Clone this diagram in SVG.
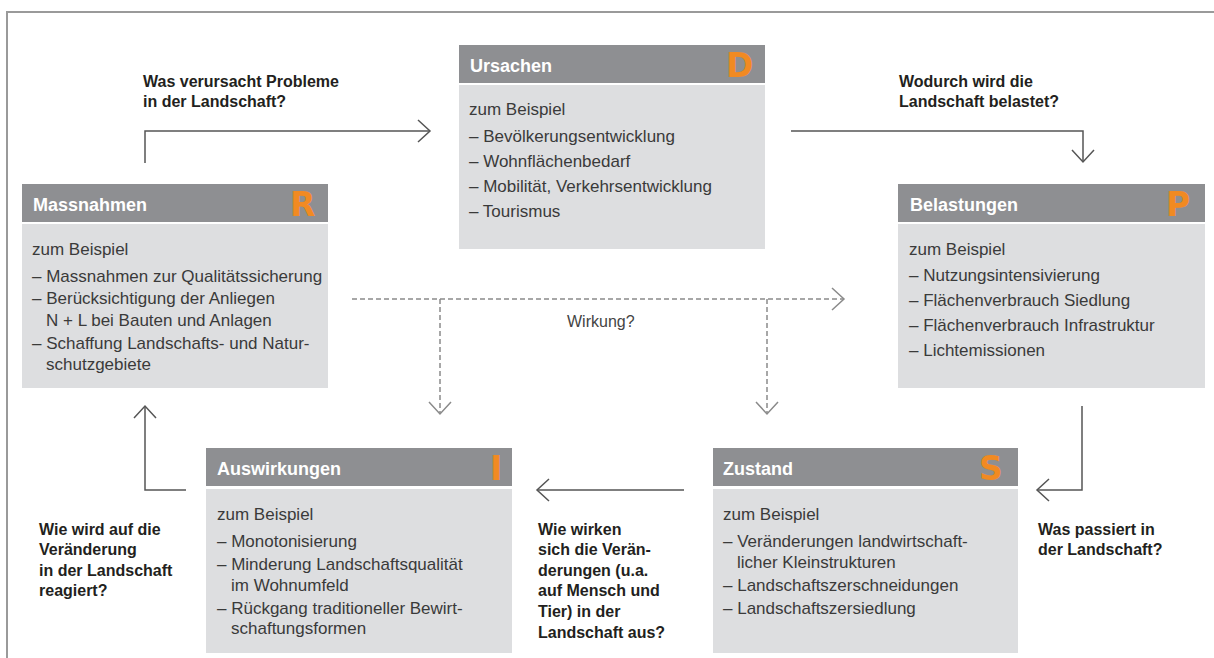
<svg xmlns="http://www.w3.org/2000/svg" width="1214" height="658" viewBox="0 0 1214 658">
<defs>
<style>
.hd{fill:#8e8f92}
.bd{fill:#dddee0}
.ht{font-family:"Liberation Sans",Arial,sans-serif;font-size:18px;font-weight:bold;fill:#ffffff}
.bt{font-family:"Liberation Sans",Arial,sans-serif;font-size:17px;fill:#3a3a3a}
.lt{font-family:"DejaVu Sans","Liberation Sans",sans-serif;font-size:33px;font-weight:bold;fill:#f18a22}
.q{font-family:"Liberation Sans",Arial,sans-serif;font-size:16px;font-weight:bold;fill:#231f20}
.w{font-family:"Liberation Sans",Arial,sans-serif;font-size:16px;fill:#444444}
.sol{fill:none;stroke:#555555;stroke-width:1.5}
.dsh{fill:none;stroke:#8a8a8a;stroke-width:1.5;stroke-dasharray:5 3}
.frame{fill:none;stroke:#9a9a9a;stroke-width:2}
</style>
<marker id="chev" markerUnits="userSpaceOnUse" markerWidth="30" markerHeight="30" viewBox="-15 -15 30 30" refX="0" refY="0" orient="auto" overflow="visible">
<path d="M-12,-11 L0,0 L-12,11" fill="none" stroke="#555555" stroke-width="1.5"/>
</marker>
<marker id="chevd" markerUnits="userSpaceOnUse" markerWidth="30" markerHeight="30" viewBox="-15 -15 30 30" refX="0" refY="0" orient="auto" overflow="visible">
<path d="M-12,-11 L0,0 L-12,11" fill="none" stroke="#8a8a8a" stroke-width="1.5"/>
</marker>
</defs>
<rect x="0" y="0" width="1214" height="658" fill="#ffffff"/>
<path class="frame" d="M1214,12 H7 V658"/>

<g id="connectors">
<path class="sol" d="M145,163 V131 H430" marker-end="url(#chev)"/>
<path class="sol" d="M791,131 H1083 V162" marker-end="url(#chev)"/>
<path class="sol" d="M1082,406 V490 H1037" marker-end="url(#chev)"/>
<path class="sol" d="M684,490 H537" marker-end="url(#chev)"/>
<path class="sol" d="M186,490 H145 V406" marker-end="url(#chev)"/>
<path class="dsh" d="M352,299 H844" marker-end="url(#chevd)"/>
<path class="dsh" d="M440,299 V414" marker-end="url(#chevd)"/>
<path class="dsh" d="M767,299 V414" marker-end="url(#chevd)"/>
<text class="w" x="567" y="327">Wirkung?</text>
</g>

<g id="q-d">
<text class="q" x="143" y="87">Was verursacht Probleme</text>
<text class="q" x="143" y="107">in der Landschaft?</text>
</g>
<g id="q-p">
<text class="q" x="899" y="87">Wodurch wird die</text>
<text class="q" x="899" y="107">Landschaft belastet?</text>
</g>
<g id="q-r">
<text class="q" x="39" y="535">Wie wird auf die</text>
<text class="q" x="39" y="555">Veränderung</text>
<text class="q" x="39" y="576">in der Landschaft</text>
<text class="q" x="39" y="596">reagiert?</text>
</g>
<g id="q-i">
<text class="q" x="538" y="535">Wie wirken</text>
<text class="q" x="538" y="555">sich die Verän-</text>
<text class="q" x="538" y="576">derungen (u.a.</text>
<text class="q" x="538" y="596">auf Mensch und</text>
<text class="q" x="538" y="617">Tier) in der</text>
<text class="q" x="538" y="638">Landschaft aus?</text>
</g>
<g id="q-s">
<text class="q" x="1038" y="535">Was passiert in</text>
<text class="q" x="1038" y="555">der Landschaft?</text>
</g>

<g id="node-D">
<rect class="hd" x="459" y="45" width="306" height="38"/>
<rect class="bd" x="459" y="85" width="306" height="164"/>
<text class="ht" x="470" y="72">Ursachen</text>
<text class="lt" x="726" y="77">D</text>
<text class="bt" x="469" y="115">zum Beispiel</text>
<text class="bt" x="469" y="142">– Bevölkerungsentwicklung</text>
<text class="bt" x="469" y="167">– Wohnflächenbedarf</text>
<text class="bt" x="469" y="192">– Mobilität, Verkehrsentwicklung</text>
<text class="bt" x="469" y="217">– Tourismus</text>
</g>

<g id="node-R">
<rect class="hd" x="22" y="184" width="306" height="38"/>
<rect class="bd" x="22" y="224" width="306" height="164"/>
<text class="ht" x="33" y="211">Massnahmen</text>
<text class="lt" x="290" y="216">R</text>
<text class="bt" x="32" y="255">zum Beispiel</text>
<text class="bt" x="32" y="282">– Massnahmen zur Qualitätssicherung</text>
<text class="bt" x="32" y="304">– Berücksichtigung der Anliegen</text>
<text class="bt" x="46" y="326">N + L bei Bauten und Anlagen</text>
<text class="bt" x="32" y="349">– Schaffung Landschafts- und Natur-</text>
<text class="bt" x="46" y="370">schutzgebiete</text>
</g>

<g id="node-P">
<rect class="hd" x="898" y="184" width="307" height="38"/>
<rect class="bd" x="898" y="224" width="307" height="164"/>
<text class="ht" x="910" y="211">Belastungen</text>
<text class="lt" x="1166" y="216">P</text>
<text class="bt" x="909" y="255">zum Beispiel</text>
<text class="bt" x="909" y="281">– Nutzungsintensivierung</text>
<text class="bt" x="909" y="306">– Flächenverbrauch Siedlung</text>
<text class="bt" x="909" y="331">– Flächenverbrauch Infrastruktur</text>
<text class="bt" x="909" y="356">– Lichtemissionen</text>
</g>

<g id="node-I">
<rect class="hd" x="206" y="448" width="306" height="38"/>
<rect class="bd" x="206" y="489" width="306" height="164"/>
<text class="ht" x="217" y="475">Auswirkungen</text>
<text class="lt" x="490" y="480">I</text>
<text class="bt" x="217" y="520">zum Beispiel</text>
<text class="bt" x="217" y="547">– Monotonisierung</text>
<text class="bt" x="217" y="570">– Minderung Landschaftsqualität</text>
<text class="bt" x="231" y="591">im Wohnumfeld</text>
<text class="bt" x="217" y="614">– Rückgang traditioneller Bewirt-</text>
<text class="bt" x="231" y="634">schaftungsformen</text>
</g>

<g id="node-S">
<rect class="hd" x="713" y="448" width="305" height="38"/>
<rect class="bd" x="713" y="489" width="305" height="164"/>
<text class="ht" x="723" y="475">Zustand</text>
<text class="lt" x="979" y="480">S</text>
<text class="bt" x="723" y="520">zum Beispiel</text>
<text class="bt" x="723" y="547">– Veränderungen landwirtschaft-</text>
<text class="bt" x="737" y="568">licher Kleinstrukturen</text>
<text class="bt" x="723" y="591">– Landschaftszerschneidungen</text>
<text class="bt" x="723" y="614">– Landschaftszersiedlung</text>
</g>
</svg>
